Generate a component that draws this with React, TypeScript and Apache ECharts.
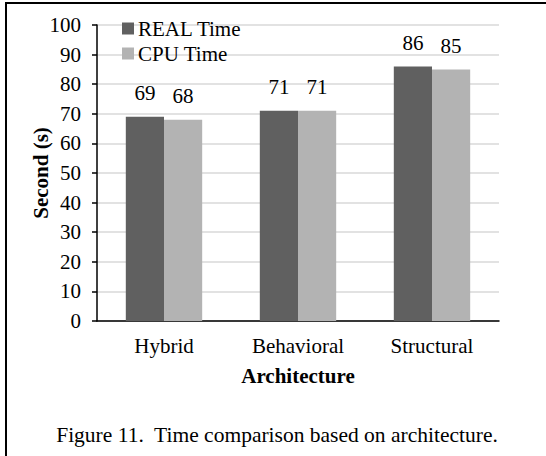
import React, { useEffect, useRef } from "react";
import * as echarts from "echarts";

const categories = ["Hybrid", "Behavioral", "Structural"];
const realTime = [69, 71, 86];
const cpuTime = [68, 71, 85];
const seriesNames = ["REAL Time", "CPU Time"];
const caption = "Figure 11.  Time comparison based on architecture.";

const FONT = "'Liberation Serif', 'Times New Roman', serif";
const FS = 21;

export default function App() {
  const ref = useRef<HTMLDivElement>(null);
  useEffect(() => {
    document.body.style.margin = "0";
    const chart = echarts.init(ref.current!, null, { renderer: "svg" });
    const labelStyle = {
      show: true,
      position: "top" as const,
      distance: 13,
      fontFamily: FONT,
      fontSize: FS,
      color: "#000",
    };
    chart.setOption({
      animation: false,
      backgroundColor: "#fff",
      textStyle: { fontFamily: FONT },
      grid: { left: 97, right: 47, top: 25, bottom: 135, containLabel: false },
      legend: {
        orient: "vertical",
        left: 122,
        top: 18,
        padding: 0,
        itemWidth: 12,
        itemHeight: 12,
        itemGap: 4,
        icon: "rect",
        textStyle: { fontFamily: FONT, fontSize: FS, color: "#000", padding: [0, 0, 0, -1] },
        data: seriesNames,
      },
      xAxis: {
        type: "category",
        data: categories,
        axisTick: { show: false },
        axisLine: { lineStyle: { color: "#000", width: 1.5 } },
        axisLabel: { fontFamily: FONT, fontSize: FS, color: "#000", margin: 14 },
        name: "Architecture",
        nameLocation: "middle",
        nameGap: 44,
        nameMoveOverlap: false,
        nameTextStyle: { fontFamily: FONT, fontSize: FS, fontWeight: "bold", color: "#000" },
      },
      yAxis: {
        type: "value",
        min: 0,
        max: 100,
        interval: 10,
        axisLine: { show: true, lineStyle: { color: "#000", width: 1.5 } },
        axisTick: { show: true, length: 5, lineStyle: { color: "#000", width: 1.5 } },
        axisLabel: { fontFamily: FONT, fontSize: FS, color: "#000", margin: 16 },
        splitLine: { lineStyle: { color: "#d9d9d9", width: 1.5 } },
        name: "Second (s)",
        nameLocation: "middle",
        nameGap: 46,
        nameMoveOverlap: false,
        nameTextStyle: { fontFamily: FONT, fontSize: FS, fontWeight: "bold", color: "#000" },
      },
      series: [
        {
          name: seriesNames[0],
          type: "bar",
          data: realTime,
          barGap: "0%",
          barCategoryGap: "43%",
          itemStyle: { color: "#606060" },
          label: labelStyle,
        },
        {
          name: seriesNames[1],
          type: "bar",
          data: cpuTime,
          barGap: "0%",
          barCategoryGap: "43%",
          itemStyle: { color: "#b3b3b3" },
          label: labelStyle,
        },
      ],
      graphic: [
        {
          type: "rect",
          shape: { x: 6, y: 3, width: 600, height: 500 },
          style: { fill: "none", stroke: "#000", lineWidth: 2 },
          silent: true,
        },
        {
          type: "text",
          x: 277,
          y: 435,
          style: {
            text: caption,
            fontFamily: FONT,
            fontSize: 21.5,
            fill: "#000",
            align: "center",
            verticalAlign: "middle",
          },
        },
      ],
    });
    return () => chart.dispose();
  }, []);
  return <div ref={ref} style={{ position: "absolute", left: 0, top: 0, width: 546, height: 456 }} />;
}
